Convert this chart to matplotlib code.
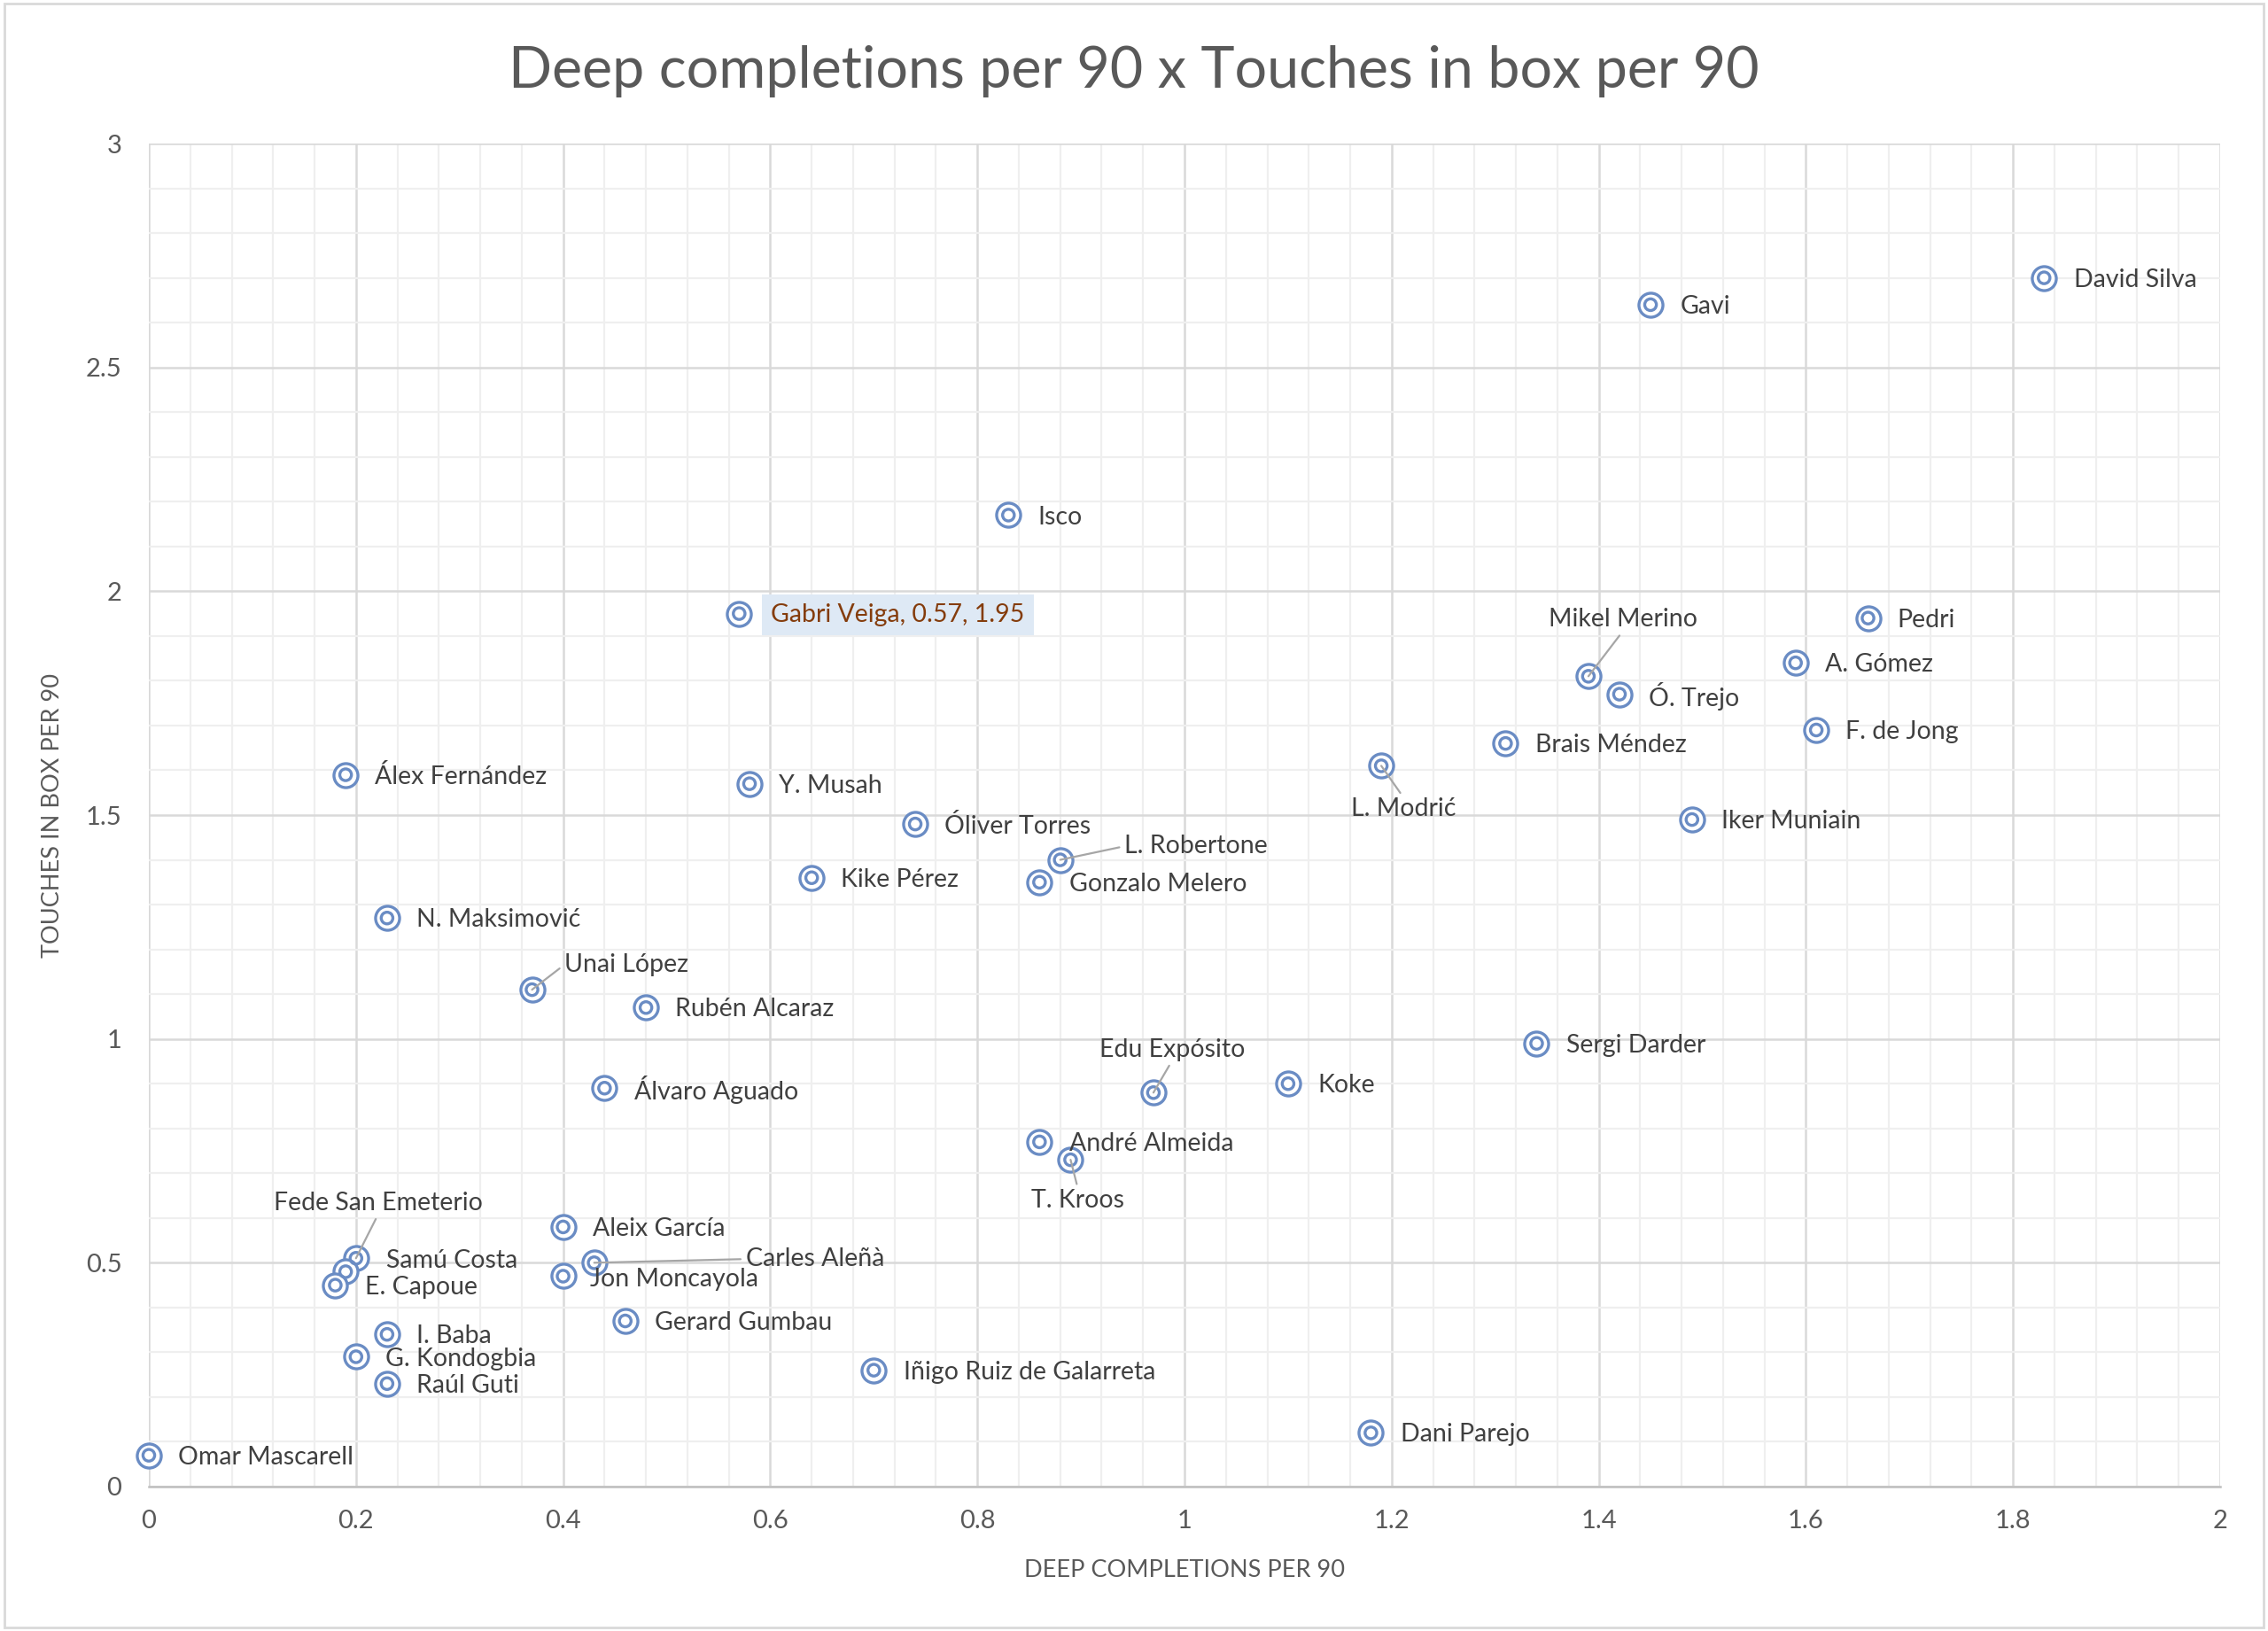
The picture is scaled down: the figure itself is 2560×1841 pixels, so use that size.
import matplotlib
matplotlib.use('Agg')
import matplotlib.pyplot as plt
from matplotlib.ticker import MultipleLocator
from matplotlib.patches import Rectangle

plt.rcParams['font.family'] = ['Lato', 'DejaVu Sans']

players = ["David Silva", "Gavi", "Isco", "Gabri Veiga", "Pedri", "Mikel Merino",
           "A. Gómez", "Ó. Trejo", "F. de Jong", "Brais Méndez", "L. Modrić",
           "Iker Muniain", "Álex Fernández", "Y. Musah", "Óliver Torres",
           "L. Robertone", "Kike Pérez", "Gonzalo Melero", "N. Maksimović",
           "Unai López", "Rubén Alcaraz", "Sergi Darder", "Koke", "Edu Expósito",
           "Álvaro Aguado", "André Almeida", "T. Kroos", "Aleix García",
           "Carles Aleñà", "Jon Moncayola", "Fede San Emeterio", "Samú Costa",
           "E. Capoue", "Gerard Gumbau", "I. Baba", "G. Kondogbia", "Raúl Guti",
           "Iñigo Ruiz de Galarreta", "Dani Parejo", "Omar Mascarell"]
deep_completions = [1.83, 1.45, 0.83, 0.57, 1.66, 1.39,
                    1.59, 1.42, 1.61, 1.31, 1.19,
                    1.49, 0.19, 0.58, 0.74,
                    0.88, 0.64, 0.86, 0.23,
                    0.37, 0.48, 1.34, 1.10, 0.97,
                    0.44, 0.86, 0.89, 0.40,
                    0.43, 0.40, 0.20, 0.19,
                    0.18, 0.46, 0.23, 0.20, 0.23,
                    0.70, 1.18, 0.00]
touches_in_box = [2.70, 2.64, 2.17, 1.95, 1.94, 1.81,
                  1.84, 1.77, 1.69, 1.66, 1.61,
                  1.49, 1.59, 1.57, 1.48,
                  1.40, 1.36, 1.35, 1.27,
                  1.11, 1.07, 0.99, 0.90, 0.88,
                  0.89, 0.77, 0.73, 0.58,
                  0.50, 0.47, 0.51, 0.48,
                  0.45, 0.37, 0.34, 0.29, 0.23,
                  0.26, 0.12, 0.07]
highlight = "Gabri Veiga"

title = "Deep completions per 90 x Touches in box per 90"
x_label = "DEEP COMPLETIONS PER 90"
y_label = "TOUCHES IN BOX PER 90"

# label placement (offset in points, ha, leader-line relpos or None)
DEFAULT = ((24, -1.5), 'left', None)
special = {
    "Mikel Merino": ((28, 46), 'center', (0.5, 0)),
    "L. Modrić": ((18, -35), 'center', (0.5, 1)),
    "L. Robertone": ((52, 11), 'left', (0, 0.5)),
    "Unai López": ((26, 20), 'left', (0, 0.5)),
    "Edu Expósito": ((15, 35), 'center', (0.5, 0)),
    "T. Kroos": ((6, -33), 'center', (0.5, 1)),
    "Carles Aleñà": ((123, 3), 'left', (0, 0.5)),
    "Fede San Emeterio": ((18, 45), 'center', (0.5, 0)),
    "Samú Costa": ((33, 9), 'left', None),
    "Jon Moncayola": ((22, -2.5), 'left', None),
}

W, H = 2560, 1841
fig = plt.figure(figsize=(W / 100, H / 100), dpi=100)
fig.patch.set_facecolor('white')
fig.add_artist(Rectangle((0.002, 0.002), 0.996, 0.996, transform=fig.transFigure,
                         fill=False, ec='#d9d9d9', lw=2))

ax = fig.add_axes([168 / W, 1 - 1678 / H, (2506 - 168) / W, (1678 - 162) / H])
ax.set_xlim(0, 2)
ax.set_ylim(0, 3)
ax.xaxis.set_major_locator(MultipleLocator(0.2))
ax.xaxis.set_minor_locator(MultipleLocator(0.04))
ax.yaxis.set_major_locator(MultipleLocator(0.5))
ax.yaxis.set_minor_locator(MultipleLocator(0.1))
ax.xaxis.set_major_formatter(plt.FuncFormatter(lambda v, p: f"{v:g}"))
ax.yaxis.set_major_formatter(plt.FuncFormatter(lambda v, p: f"{v:g}"))
ax.grid(which='major', color='#d9d9d9', lw=1.8)
ax.grid(which='minor', color='#efefef', lw=1.6)
ax.set_axisbelow(True)
for s in ['top', 'right', 'left']:
    ax.spines[s].set_visible(False)
ax.spines['bottom'].set_color('#bfbfbf')
ax.spines['bottom'].set_linewidth(1.8)
ax.tick_params(which='both', length=0, colors='#595959', labelsize=21)
ax.tick_params(axis='x', pad=19)
ax.tick_params(axis='y', pad=22)

blue = '#6a8cc4'
ax.scatter(deep_completions, touches_in_box, s=380, facecolors='white',
           edgecolors=blue, linewidths=2.4, zorder=3, clip_on=False)
ax.scatter(deep_completions, touches_in_box, s=90, facecolors='none',
           edgecolors=blue, linewidths=2.4, zorder=4, clip_on=False)

for name, x, y in zip(players, deep_completions, touches_in_box):
    off, ha, rel = special.get(name, DEFAULT)
    kw = dict(xy=(x, y), xytext=off, textcoords='offset points', ha=ha, va='center',
              fontsize=20.5, color='#404040', zorder=5)
    label = name
    if rel is not None:
        kw['arrowprops'] = dict(arrowstyle='-', color='#a6a6a6', lw=1.6,
                                relpos=rel, shrinkA=2, shrinkB=0)
    if name == highlight:
        label = f"{name}, {x:.2f}, {y:.2f}"
        kw['color'] = '#843c0c'
        kw['bbox'] = dict(boxstyle='square,pad=0.35', fc='#dee9f5', ec='none')
        kw['xytext'] = (26, -1)
    ax.annotate(label, **kw)

fig.text(0.5, 1 - 80 / H, title, ha='center', va='center', fontsize=46.5, color='#595959')
ax.set_xlabel(x_label, fontsize=19.5, color='#595959', labelpad=21)
ax.set_ylabel(y_label, fontsize=19.5, color='#595959', labelpad=18)

fig.savefig('out.png', dpi=100, facecolor='white')
